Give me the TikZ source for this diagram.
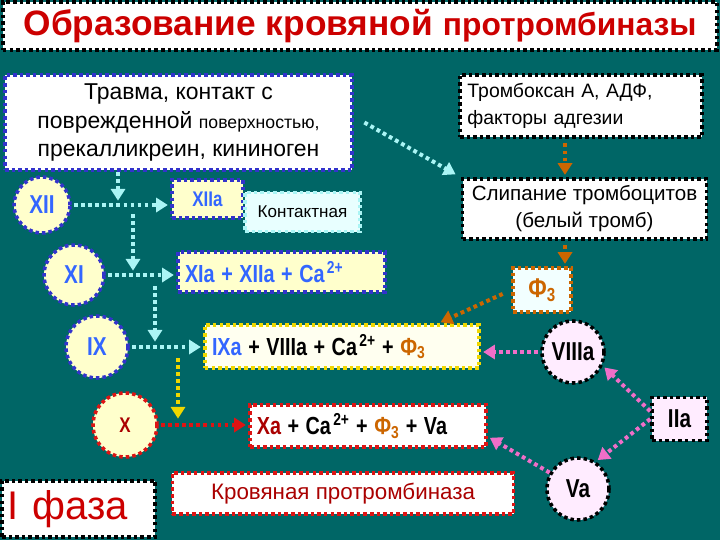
\documentclass[tikz,border=0pt]{standalone}
\usepackage{fontspec}
\setmainfont{Liberation Sans}
\usepackage{graphicx}
\usetikzlibrary{arrows.meta}

\definecolor{bgteal}{RGB}{0,102,102}
\definecolor{facblue}{RGB}{51,51,204}
\definecolor{labblue}{RGB}{51,102,255}
\definecolor{paleyel}{RGB}{255,255,204}
\definecolor{ixfill}{RGB}{255,255,240}
\definecolor{cyanline}{RGB}{170,245,245}
\definecolor{cyanfill}{RGB}{232,255,255}
\definecolor{f3fill}{RGB}{242,255,255}
\definecolor{phiorange}{RGB}{204,102,0}
\definecolor{pinkline}{RGB}{240,110,200}
\definecolor{palepink}{RGB}{255,236,255}
\definecolor{darkred}{RGB}{170,0,0}
\definecolor{titlered}{RGB}{204,0,0}
\definecolor{bordred}{RGB}{221,20,20}
\definecolor{bordyel}{RGB}{240,215,0}

\newcommand{\fac}[1]{\scalebox{0.8}[1]{\bfseries #1}}
\newcommand{\phithree}{\textcolor{phiorange}{Ф\textsubscript{3}}}

\tikzstyle{dotbox}=[
    draw,
    line width=3pt,
    dash pattern=on 3pt off 2.6pt,
    inner sep=4pt,
  ]
\tikzstyle{factor}=[
    dotbox,
    circle,
    draw=facblue,
    fill=paleyel,
    text=labblue,
    font=\fontsize{22}{22}\selectfont,
  ]
\tikzstyle{link}=[
    -{Triangle[length=10pt,width=12pt]},
    line width=3.4pt,
    dash pattern=on 3.2pt off 2.8pt,
    shorten >=2pt,
  ]

\begin{document}
\begin{tikzpicture}[x=0.85pt, y=-0.85pt]
  \fill[bgteal] (0,0) rectangle (720,540);
  \useasboundingbox (0,0) rectangle (720,540);

  % title
  \node[dotbox, draw=black, fill=white, minimum width=607pt, minimum height=40.8pt,
    text=titlered, font=\bfseries] (title) at (360,26)
    {\fontsize{30}{30}\selectfont Образование кровяной {\fontsize{27}{30}\selectfont протромбиназы}};

  % left column
  \node[dotbox, draw=facblue, fill=white, minimum width=295pt, minimum height=80.75pt,
    align=center, font=\fontsize{19.5}{24.5}\selectfont] (trauma) at (178.5,122.5)
    {Травма, контакт с\\поврежденной {\fontsize{15}{24.5}\selectfont поверхностью,}\\прекалликреин, кининоген};
  \node[factor, minimum size=47.6pt] (XII) at (42,205) {\fac{XII}};
  \node[dotbox, draw=facblue, fill=paleyel, text=labblue, minimum width=60.4pt, minimum height=32.3pt,
    font=\fontsize{18}{18}\selectfont] (XIIa) at (207.5,199) {\fac{XIIa}};
  \node[dotbox, draw=cyanline, fill=cyanfill, minimum width=97.8pt, minimum height=33.2pt,
    font=\fontsize{14.5}{15}\selectfont] (kontakt) at (302.5,212) {Контактная};
  \node[factor, minimum size=51pt] (XI) at (74,275) {\fac{XI}};
  \node[dotbox, draw=facblue, fill=paleyel, text=labblue, minimum width=176pt, minimum height=34pt,
    text width=164pt, align=left, font=\fontsize{21}{21}\selectfont] (XIa) at (281.5,272)
    {\fac{XIa + XIIa + Ca\textsuperscript{\,2+}}};
  \node[factor, minimum size=52.7pt] (IX) at (97,347) {\fac{IX}};
  \node[dotbox, draw=bordyel, fill=ixfill, minimum width=233pt, minimum height=36.6pt,
    text width=221pt, align=left, font=\fontsize{21}{21}\selectfont] (IXa) at (342,346.5)
    {\fac{\textcolor{labblue}{IXa} + VIIIa + Ca\textsuperscript{\,2+} + \phithree}};
  \node[factor, draw=bordred, text=darkred, minimum size=54.4pt,
    font=\fontsize{18}{18}\selectfont] (X) at (125,425) {\fac{X}};
  \node[dotbox, draw=bordred, fill=white, minimum width=200.6pt, minimum height=35.7pt,
    text width=189pt, align=left, font=\fontsize{21}{21}\selectfont] (Xa) at (368,426)
    {\fac{\textcolor{darkred}{Xa} + Ca\textsuperscript{\,2+} + \phithree{} + Va}};
  \node[dotbox, draw=black, fill=white, minimum width=130pt, minimum height=48pt,
    text width=120pt, align=left, text=titlered, font=\fontsize{34}{34}\selectfont] (phase) at (78.5,509) {I фаза};
  \node[dotbox, draw=bordred, fill=white, text=darkred, minimum width=290pt, minimum height=34.9pt,
    font=\fontsize{19}{19}\selectfont] (krov) at (343,493.5) {Кровяная протромбиназа};

  % right column
  \node[dotbox, draw=black, fill=white, minimum width=205.7pt, minimum height=52.7pt,
    text width=193pt, align=left, font=\fontsize{16.5}{23}\selectfont] (tromb) at (581,106)
    {Тромбоксан А, АДФ,\\факторы адгезии};
  \node[dotbox, draw=black, fill=white, minimum width=207.4pt, minimum height=51pt,
    align=center, font=\fontsize{17.5}{23}\selectfont] (slip) at (584.5,209)
    {Слипание тромбоцитов\\(белый тромб)};
  \node[dotbox, draw=phiorange, fill=f3fill, minimum width=49.3pt, minimum height=37.4pt,
    font=\fontsize{23}{23}\selectfont] (F3) at (542,290) {\fac{\phithree}};
  \node[factor, draw=black, fill=palepink, text=black, minimum size=52.7pt] (VIIIa) at (573,352) {\fac{VIIIa}};
  \node[dotbox, draw=black, fill=palepink, minimum width=46.75pt, minimum height=36.6pt,
    font=\fontsize{22}{22}\selectfont] (IIa) at (679.5,419) {\fac{IIa}};
  \node[factor, draw=black, fill=palepink, text=black, minimum size=52.7pt] (Va) at (578,489) {\fac{Va}};

  % junctions
  \coordinate (j1) at (118,203);
  \coordinate (j2s) at (133,214);
  \coordinate (j2) at (133,273);
  \coordinate (j3s) at (155,286);
  \coordinate (j3) at (155,344);
  \coordinate (j4s) at (178,358);
  \coordinate (j4) at (178,421);
  \coordinate (ox) at (565,0);

  % cascade
  \draw[link, cyanline] (trauma.south -| j1) -- (j1);
  \draw[link, cyanline, shorten <=2pt] (XII.east) -- (XII.east -| XIIa.west);
  \draw[link, cyanline] (j2s) -- (j2);
  \draw[link, cyanline, shorten <=2pt] (XI.east) -- (XI.east -| XIa.west);
  \draw[link, cyanline] (j3s) -- (j3);
  \draw[link, cyanline, shorten <=2pt] (IX.east) -- (IX.east -| IXa.west);
  \draw[link, bordyel] (j4s) -- (j4);
  \draw[link, bordred, shorten <=2pt] (X.east) -- (X.east -| Xa.west);

  % platelets
  \draw[link, cyanline, shorten >=5pt] ([xshift=9pt]trauma.east) -- (slip.north west);
  \draw[link, phiorange, shorten <=4pt] (tromb.south -| ox) -- (slip.north -| ox);
  \draw[link, phiorange, shorten <=4pt] (slip.south -| ox) -- (F3.north -| ox);
  \draw[link, phiorange, shorten <=8pt] (F3.west) -- ([xshift=-36pt]IXa.north east);

  % thrombin loop
  \draw[link, pinkline, shorten <=2pt] (VIIIa.west) -- (VIIIa.west -| IXa.east);
  \draw[link, pinkline] (IIa.165) -- (VIIIa.-25);
  \draw[link, pinkline] (IIa.west) -- (Va.57);
  \draw[link, pinkline] (Va.150) -- ([yshift=-9pt]Xa.east);
\end{tikzpicture}
\end{document}
